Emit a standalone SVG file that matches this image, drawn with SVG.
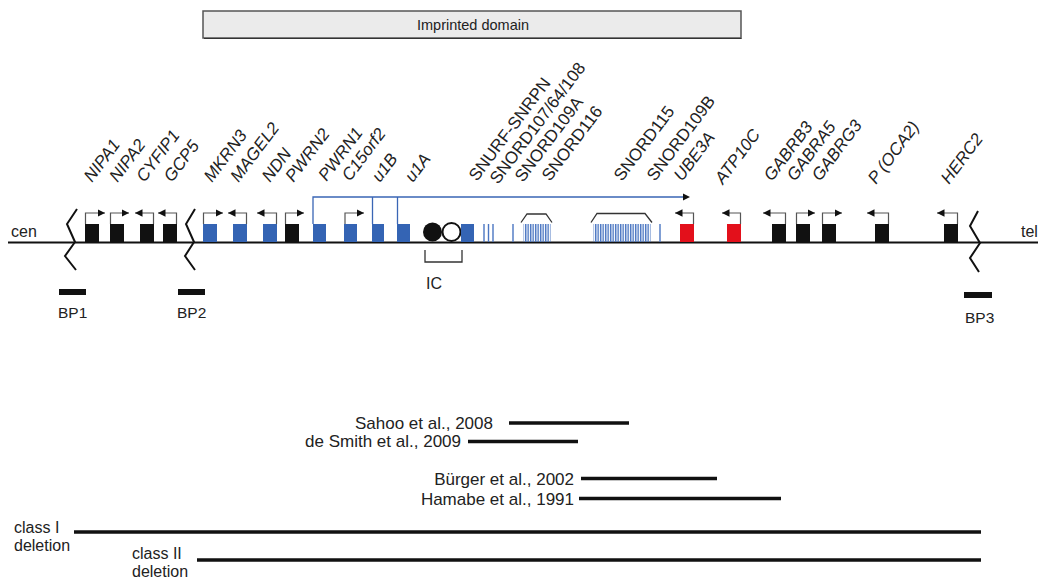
<svg xmlns="http://www.w3.org/2000/svg" width="1038" height="581" viewBox="0 0 1038 581">
<style>
text { font-family: "Liberation Sans", Arial, sans-serif; fill: #222; }
.lbl { font-size: 17px; }
.it { font-style: italic; }
.gb { fill: #111; }
.bb { fill: #3464b4; }
.rb { fill: #e3101b; }
.arr { stroke: #555; stroke-width: 1.2; fill: none; marker-end: url(#ah); }
.brk { stroke: #111; stroke-width: 2; fill: none; }
.sno { stroke: #4a76c2; stroke-width: 1.4; }
.brkt { stroke: #333; stroke-width: 1.3; fill: none; }
.tx { stroke: #3a66b5; stroke-width: 1.3; fill: none; }
.bar { stroke: #111; stroke-width: 3.5; }
.ref { font-size: 17px; }
.cls { font-size: 16px; }
</style>
<defs>
<marker id="ah" markerUnits="userSpaceOnUse" markerWidth="8" markerHeight="8" refX="7.5" refY="3.75" orient="auto">
<path d="M0,0 L7.5,3.75 L0,7.5 z" fill="#111"/>
</marker>
<pattern id="snoP" width="2.5" height="20" patternUnits="userSpaceOnUse">
<rect x="0" y="0" width="1.4" height="20" fill="#4a76c2"/>
</pattern>
</defs>

<g id="imprinted-domain">
<rect x="203" y="11" width="538" height="27" fill="#ebebeb" stroke="#555" stroke-width="1.5"/>
<line x1="204" y1="38.5" x2="741.5" y2="38.5" stroke="#333" stroke-width="1"/>
<text x="473" y="30" font-size="14.5" text-anchor="middle">Imprinted domain</text>
</g>

<g id="chromosome">
<line x1="8" y1="242.5" x2="1038" y2="242.5" stroke="#111" stroke-width="2.2"/>
<text x="11" y="237" font-size="16">cen</text>
<text x="1021" y="237" font-size="16">tel</text>
</g>

<g id="breaks">
<path class="brk" d="M77 209 L67 224 L75 242 L65 256 L76 270"/>
<path class="brk" d="M195 209 L186 224 L194 242 L185 256 L195 270"/>
<path class="brk" d="M978 211 L970 226 L980 243 L970 258 L979 272"/>
</g>

<g id="bp1"><rect x="59" y="289" width="27" height="6" fill="#111"/><text x="58" y="318" font-size="15.5">BP1</text></g>
<g id="bp2"><rect x="178" y="289" width="27" height="6" fill="#111"/><text x="177" y="318" font-size="15.5">BP2</text></g>
<g id="bp3"><rect x="964" y="292" width="28" height="6" fill="#111"/><text x="965" y="323" font-size="15.5">BP3</text></g>

<g id="connectors">
<path class="tx" d="M313 224 V197 H683"/>
<path d="M683 193.5 L690 197 L683 200.5 z" fill="#111"/>
<path class="tx" d="M372.5 197 V224"/>
<path class="tx" d="M397.5 197 V224"/>
</g>

<g id="NIPA1"><rect class="gb" x="85" y="224" width="14" height="18"/><path class="arr" d="M85.5 224 V213 H105"/><text class="lbl it" transform="translate(92,183) rotate(-53)">NIPA1</text></g>
<g id="NIPA2"><rect class="gb" x="110" y="224" width="14" height="18"/><path class="arr" d="M110.5 224 V213 H129"/><text class="lbl it" transform="translate(117.5,183) rotate(-53)">NIPA2</text></g>
<g id="CYFIP1"><rect class="gb" x="140" y="224" width="14" height="18"/><path class="arr" d="M153.5 224 V213 H135"/><text class="lbl it" transform="translate(144.5,183) rotate(-53)">CYFIP1</text></g>
<g id="GCP5"><rect class="gb" x="163" y="224" width="14" height="18"/><path class="arr" d="M176.5 224 V213 H158"/><text class="lbl it" transform="translate(172,183) rotate(-53)">GCP5</text></g>
<g id="MKRN3"><rect class="bb" x="203" y="224" width="14" height="18"/><path class="arr" d="M203.5 224 V213 H223"/><text class="lbl it" transform="translate(212,183) rotate(-53)">MKRN3</text></g>
<g id="MAGEL2"><rect class="bb" x="233" y="224" width="14" height="18"/><path class="arr" d="M246.5 224 V213 H228"/><text class="lbl it" transform="translate(238.5,183) rotate(-53)">MAGEL2</text></g>
<g id="NDN"><rect class="bb" x="263" y="224" width="14" height="18"/><path class="arr" d="M276.5 224 V213 H257"/><text class="lbl it" transform="translate(270,183) rotate(-53)">NDN</text></g>
<g id="PWRN2"><rect class="gb" x="285" y="224" width="14" height="18"/><path class="arr" d="M285.5 224 V213 H304"/><text class="lbl it" transform="translate(293.5,183) rotate(-53)">PWRN2</text></g>
<g id="PWRN1"><rect class="bb" x="313" y="224" width="13" height="18"/><text class="lbl it" transform="translate(326.5,182) rotate(-53)">PWRN1</text></g>
<g id="C15orf2"><rect class="bb" x="344" y="224" width="13" height="18"/><path class="arr" d="M345 224 V213 H364"/><text class="lbl it" transform="translate(350,182) rotate(-53)">C15orf2</text></g>
<g id="u1B"><rect class="bb" x="372" y="224" width="12" height="18"/><text class="lbl it" transform="translate(380,183) rotate(-53)">u1B</text></g>
<g id="u1A"><rect class="bb" x="397" y="224" width="13" height="18"/><text class="lbl it" transform="translate(413,183) rotate(-53)">u1A</text></g>

<g id="IC">
<circle cx="432.5" cy="232" r="9.5" fill="#111"/>
<circle cx="451.5" cy="232" r="9" fill="#fff" stroke="#111" stroke-width="2"/>
<path class="brkt" d="M425 250 V262 H462 V250" stroke-width="1.6"/>
<text x="426" y="289" font-size="16">IC</text>
</g>

<g id="SNURF-SNRPN"><rect class="bb" x="461" y="224" width="13" height="18"/><text class="lbl" transform="translate(477,182) rotate(-53)">SNURF-SNRPN</text></g>
<g id="SNORD107-64-108"><line class="sno" x1="484" y1="224" x2="484" y2="242"/><line class="sno" x1="488.5" y1="224" x2="488.5" y2="242"/><line class="sno" x1="493" y1="224" x2="493" y2="242"/><text class="lbl" transform="translate(498,185) rotate(-53)">SNORD107/64/108</text></g>
<g id="SNORD109A"><line class="sno" x1="513" y1="224" x2="513" y2="242"/><text class="lbl" transform="translate(523,183) rotate(-53)">SNORD109A</text></g>
<g id="SNORD116"><rect x="523.5" y="224" width="27" height="18" fill="url(#snoP)"/><path class="brkt" d="M521 222.5 L527 214 H546 L552 222.5"/><text class="lbl" transform="translate(550,182) rotate(-53)">SNORD116</text></g>
<g id="SNORD115"><rect x="593.5" y="224" width="57" height="18" fill="url(#snoP)"/><path class="brkt" d="M591 222.5 L597 213.5 H645 L652 222.5"/><text class="lbl" transform="translate(622,182) rotate(-53)">SNORD115</text></g>
<g id="SNORD109B"><line class="sno" x1="660" y1="224" x2="660" y2="242"/><text class="lbl" transform="translate(655,182) rotate(-53)">SNORD109B</text></g>
<g id="UBE3A"><rect class="rb" x="680" y="224" width="14" height="18"/><path class="arr" d="M693.5 224 V213 H675"/><text class="lbl it" transform="translate(682,182) rotate(-53)">UBE3A</text></g>
<g id="ATP10C"><rect class="rb" x="727" y="224" width="14" height="18"/><path class="arr" d="M740.5 224 V213 H722"/><text class="lbl it" transform="translate(723,185) rotate(-53)">ATP10C</text></g>
<g id="GABRB3"><rect class="gb" x="772" y="224" width="14" height="18"/><path class="arr" d="M785.5 224 V213 H763"/><text class="lbl it" transform="translate(772,182) rotate(-53)">GABRB3</text></g>
<g id="GABRA5"><rect class="gb" x="796" y="224" width="14" height="18"/><path class="arr" d="M796.5 224 V213 H815"/><text class="lbl it" transform="translate(795,182) rotate(-53)">GABRA5</text></g>
<g id="GABRG3"><rect class="gb" x="822" y="224" width="14" height="18"/><path class="arr" d="M822.5 224 V213 H842"/><text class="lbl it" transform="translate(820,182) rotate(-53)">GABRG3</text></g>
<g id="P-OCA2"><rect class="gb" x="875" y="224" width="14" height="18"/><path class="arr" d="M888.5 224 V213 H867"/><text class="lbl it" transform="translate(876,185) rotate(-53)">P (OCA2)</text></g>
<g id="HERC2"><rect class="gb" x="944" y="224" width="14" height="18"/><path class="arr" d="M957.5 224 V213 H937"/><text class="lbl it" transform="translate(949,185) rotate(-53)">HERC2</text></g>

<g id="sahoo"><text class="ref" x="493" y="429" text-anchor="end">Sahoo et al., 2008</text><line class="bar" x1="509" y1="423" x2="629" y2="423"/></g>
<g id="desmith"><text class="ref" x="461" y="447" text-anchor="end">de Smith et al., 2009</text><line class="bar" x1="468" y1="441.5" x2="578" y2="441.5"/></g>
<g id="burger"><text class="ref" x="574" y="485" text-anchor="end">Bürger et al., 2002</text><line class="bar" x1="581" y1="478.5" x2="717" y2="478.5"/></g>
<g id="hamabe"><text class="ref" x="574" y="505" text-anchor="end">Hamabe et al., 1991</text><line class="bar" x1="579" y1="498.5" x2="781" y2="498.5"/></g>
<g id="class1"><text class="cls" x="14" y="533">class I</text><text class="cls" x="14" y="551">deletion</text><line class="bar" x1="74" y1="532" x2="981" y2="532"/></g>
<g id="class2"><text class="cls" x="132" y="559" font-size="15.5">class II</text><text class="cls" x="132" y="577" font-size="15.5">deletion</text><line class="bar" x1="197" y1="560" x2="981" y2="560"/></g>
</svg>
